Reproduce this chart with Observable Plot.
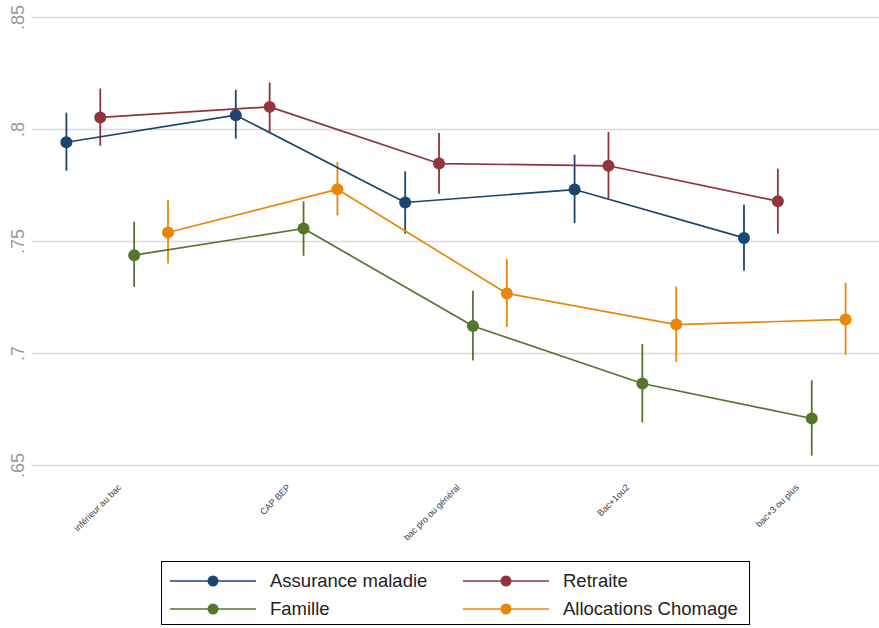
<!DOCTYPE html>
<html>
<head>
<meta charset="utf-8">
<script src="https://cdn.jsdelivr.net/npm/d3@7"></script>
<script src="https://cdn.jsdelivr.net/npm/@observablehq/plot@0.6"></script>
<style>
  body { margin: 0; background: #fff; font-family: "Liberation Sans", Arial, sans-serif; }
  #chart { position: relative; width: 879px; }
  #legend { position: relative; margin-left: 161px; margin-top: 6px; width: 589px; height: 64px; box-sizing: border-box; border: 1px solid #000; }
  .item { position: absolute; height: 20px; display: flex; align-items: center; }
  .item span { font-size: 18.5px; color: #222; position: absolute; white-space: nowrap; }
</style>
</head>
<body>
<div id="chart"></div>
<div id="legend"></div>
<script>
const categories = ["inférieur au bac", "CAP BEP", "bac pro ou général", "Bac+1ou2", "bac+3 ou plus"];
const seriesNames = ["Assurance maladie", "Retraite", "Famille", "Allocations Chomage"];
const colors = ["#1a476f", "#90353b", "#55752f", "#e8870a"];
const offsets = [-0.3, -0.1, 0.1, 0.3];
const yTicks = [0.65, 0.7, 0.75, 0.8, 0.85];

const assuranceY  = [0.7943, 0.8064, 0.7674, 0.7732, 0.7516];
const assuranceLo = [0.7814, 0.7957, 0.7533, 0.7580, 0.7367];
const assuranceHi = [0.8073, 0.8175, 0.7811, 0.7885, 0.7662];

const retraiteY  = [0.8054, 0.8101, 0.7848, 0.7838, 0.7680];
const retraiteLo = [0.7925, 0.7985, 0.7711, 0.7689, 0.7533];
const retraiteHi = [0.8181, 0.8208, 0.7982, 0.7987, 0.7823];

const familleY  = [0.7439, 0.7558, 0.7123, 0.6866, 0.6710];
const familleLo = [0.7295, 0.7434, 0.6967, 0.6690, 0.6542];
const familleHi = [0.7586, 0.7677, 0.7278, 0.7040, 0.6878];

const chomageY  = [0.7540, 0.7733, 0.7268, 0.7129, 0.7152];
const chomageLo = [0.7399, 0.7614, 0.7116, 0.6960, 0.6992];
const chomageHi = [0.7684, 0.7853, 0.7420, 0.7297, 0.7313];

const seriesValues = [
  [assuranceY, assuranceLo, assuranceHi],
  [retraiteY, retraiteLo, retraiteHi],
  [familleY, familleLo, familleHi],
  [chomageY, chomageLo, chomageHi]
];

const data = [];
seriesValues.forEach(([ys, los, his], s) => {
  categories.forEach((c, i) => {
    data.push({series: seriesNames[s], x: i + 1 + offsets[s], y: ys[i], lo: los[i], hi: his[i]});
  });
});

const catData = categories.map((c, i) => ({label: c, x: i + 1}));

const plot = Plot.plot({
  width: 879,
  height: 555,
  marginTop: 17,
  marginBottom: 90,
  marginLeft: 32,
  marginRight: 0,
  style: {fontFamily: "'Liberation Sans', Arial, sans-serif", background: "#fff"},
  x: {type: "linear", domain: [0.5, 5.5], axis: null},
  y: {domain: [0.65, 0.85], axis: null},
  color: {domain: seriesNames, range: colors},
  marks: [
    Plot.ruleY(yTicks, {stroke: "#d9d9d9", strokeWidth: 1.5}),
    Plot.text(yTicks, {
      y: d => d, frameAnchor: "left", dx: -14, rotate: -90,
      text: d => String(d).replace(/^0/, ""),
      textAnchor: "middle", lineAnchor: "middle",
      fontSize: 18, fill: "#999"
    }),
    Plot.text(catData, {
      x: "x", text: "label", frameAnchor: "bottom", dy: 18, dx: 0,
      rotate: -45, textAnchor: "end", lineAnchor: "top",
      fontSize: 9, fill: "#3a3a48"
    }),
    Plot.ruleX(data, {x: "x", y1: "lo", y2: "hi", stroke: "series", strokeWidth: 1.8}),
    Plot.line(data, {x: "x", y: "y", z: "series", stroke: "series", strokeWidth: 1.7}),
    Plot.dot(data, {x: "x", y: "y", fill: "series", r: 6, stroke: "none"})
  ]
});
document.getElementById("chart").appendChild(plot);

// Legend
const legend = document.getElementById("legend");
const pos = [
  {lx: 8, ly: 9},
  {lx: 301, ly: 9},
  {lx: 8, ly: 37},
  {lx: 301, ly: 37}
];
seriesNames.forEach((name, i) => {
  const p = pos[i];
  const div = document.createElement("div");
  div.className = "item";
  div.style.left = p.lx + "px";
  div.style.top = p.ly + "px";
  div.style.width = "300px";
  div.innerHTML = `<svg width="90" height="20" style="position:absolute;left:0;top:0">
      <line x1="0" x2="86" y1="10" y2="10" stroke="${colors[i]}" stroke-width="1.6"/>
      <circle cx="43" cy="10" r="5.5" fill="${colors[i]}"/>
    </svg><span style="left:100px;top:-1px">${name}</span>`;
  legend.appendChild(div);
});
</script>
</body>
</html>
